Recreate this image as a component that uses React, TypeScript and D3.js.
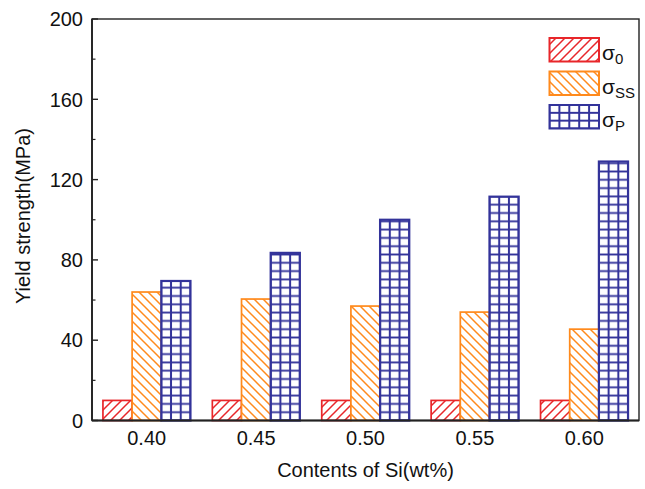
import React from "react";
import * as d3 from "d3";

const categories = ["0.40", "0.45", "0.50", "0.55", "0.60"];
const sigma0 = [10, 10, 10, 10, 10];
const sigmaSS = [64, 60.5, 57, 54, 45.5];
const sigmaP = [69.5, 83.5, 100, 111.5, 129];
const yMajorTicks = [0, 40, 80, 120, 160, 200];
const yMinorTicks = [20, 60, 100, 140, 180];
const seriesNames = ["0", "SS", "P"];

const W = 645, H = 489;
const L = 92, R = 639, T = 19, B = 420.5;
const FONT = "'Liberation Sans', Arial, Helvetica, sans-serif";
const RED = "#e8262a";
const ORANGE = "#ff8a1c";
const BLUE = "#33339a";

function GridPattern({ id, x0, y0, cw, ch }: { id: string; x0: number; y0: number; cw: number; ch: number }) {
  return (
    <pattern id={id} patternUnits="userSpaceOnUse" width={cw} height={ch} x={x0 - cw / 2} y={y0 - ch / 2}>
      <rect width={cw} height={ch} fill="#fff" />
      <path d={`M${cw / 2},0 L${cw / 2},${ch} M0,${ch / 2} L${cw},${ch / 2}`} stroke={BLUE} strokeWidth={2} />
    </pattern>
  );
}

export default function App() {
  const x = d3.scaleBand<string>().domain(categories).range([L, R]).paddingInner(0.2).paddingOuter(0.1);
  const sub = d3.scaleBand<string>().domain(seriesNames).range([0, x.bandwidth()]);
  const y = d3.scaleLinear().domain([0, 200]).range([B, T]);
  const bw = sub.bandwidth();
  const series = [
    { key: "0", values: sigma0, stroke: RED, fill: () => "url(#hatchRed)", legendFill: "url(#hatchRed)" },
    { key: "SS", values: sigmaSS, stroke: ORANGE, fill: () => "url(#hatchOrange)", legendFill: "url(#hatchOrange)" },
    { key: "P", values: sigmaP, stroke: BLUE, fill: (i: number) => `url(#gridBlue${i})`, legendFill: "url(#gridBlueLegend)" },
  ];
  const legendY = [38, 71.5, 105];
  return (
    <svg width={W} height={H} style={{ position: "absolute", left: 0, top: 0, background: "#fff" }} fontFamily={FONT}>
      <defs>
        <pattern id="hatchRed" patternUnits="userSpaceOnUse" width={9} height={9}>
          <rect width={9} height={9} fill="#fff" />
          <path d="M-1,10 L10,-1 M-4,4 L4,-4 M5,13 L13,5" stroke={RED} strokeWidth={1.5} />
        </pattern>
        <pattern id="hatchOrange" patternUnits="userSpaceOnUse" width={9} height={9}>
          <rect width={9} height={9} fill="#fff" />
          <path d="M-1,-1 L10,10 M-4,5 L4,13 M5,-4 L13,4" stroke={ORANGE} strokeWidth={1.5} />
        </pattern>
        {categories.map((c, i) => (
          <GridPattern key={c} id={`gridBlue${i}`} x0={x(c)! + sub("P")!} y0={B} cw={bw / 3} ch={8.3} />
        ))}
        <GridPattern id="gridBlueLegend" x0={549.5} y0={105} cw={9.9} ch={7.83} />
      </defs>

      {/* bars */}
      {series.map((s) => (
        <g key={s.key}>
          {s.values.map((v, i) => (
            <rect
              key={i}
              x={x(categories[i])! + sub(s.key)!}
              y={y(v)}
              width={bw}
              height={B - y(v)}
              fill={s.fill(i)}
              stroke={s.stroke}
              strokeWidth={s.key === "P" ? 2.2 : 1.7}
            />
          ))}
        </g>
      ))}

      {/* frame */}
      <rect x={L} y={T} width={R - L} height={B - T} fill="none" stroke="#222" strokeWidth={1.4} />
      <line x1={L} x2={R} y1={B} y2={B} stroke="#222" strokeWidth={2.2} />
      <line x1={L} x2={L} y1={T} y2={B} stroke="#222" strokeWidth={1.8} />

      {/* y ticks */}
      {yMajorTicks.map((t) => (
        <g key={t}>
          <line x1={L} x2={L + 6} y1={y(t)} y2={y(t)} stroke="#222" strokeWidth={1.4} />
          <text x={83} y={y(t)} dy="0.36em" textAnchor="end" fontSize={20} fill="#111">{t}</text>
        </g>
      ))}
      {yMinorTicks.map((t) => (
        <line key={t} x1={L} x2={L + 3.5} y1={y(t)} y2={y(t)} stroke="#222" strokeWidth={1.2} />
      ))}

      {/* x labels */}
      {categories.map((c) => (
        <text key={c} x={x(c)! + x.bandwidth() / 2} y={445} textAnchor="middle" fontSize={20} fill="#111">{c}</text>
      ))}

      {/* axis titles */}
      <text x={(L + R) / 2} y={477} textAnchor="middle" fontSize={20} fill="#111">Contents of Si(wt%)</text>
      <text transform={`translate(30,216) rotate(-90)`} textAnchor="middle" fontSize={20} fill="#111">Yield strength(MPa)</text>

      {/* legend */}
      {series.map((s, i) => (
        <g key={s.key}>
          <rect x={549.5} y={legendY[i]} width={49.5} height={23.5} fill={s.legendFill} stroke={s.stroke} strokeWidth={2} />
          <text x={602} y={legendY[i] + 22} fontSize={21} fill="#111">
            σ<tspan fontSize={15} dy={4}>{s.key}</tspan>
          </text>
        </g>
      ))}
    </svg>
  );
}
